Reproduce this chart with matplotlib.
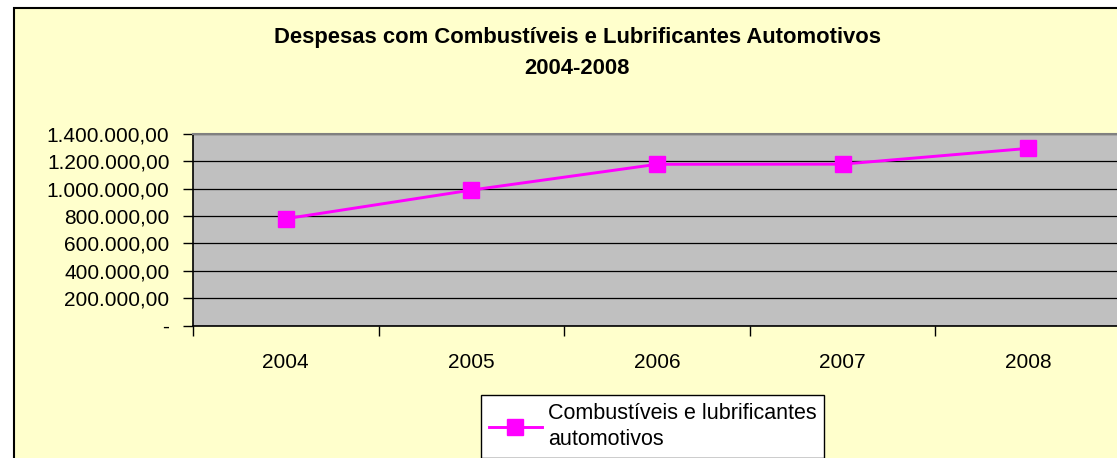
import matplotlib.pyplot as plt
from matplotlib.patches import Rectangle
from matplotlib.ticker import FuncFormatter, MultipleLocator

# dados
anos = ['2004', '2005', '2006', '2007', '2008']
despesas = [780000, 989000, 1177000, 1178000, 1293000]
serie = 'Combustíveis e lubrificantes\nautomotivos'
titulo = 'Despesas com Combustíveis e Lubrificantes Automotivos\n2004-2008'

plt.rcParams['font.family'] = ['Liberation Sans', 'DejaVu Sans']

W, H = 1117, 458
fig = plt.figure(figsize=(W / 100, H / 100), dpi=100)
fig.patch.set_facecolor('white')

# area do grafico (amarelo claro, borda preta)
fig.patches.append(Rectangle((14 / W, -0.1), 1.2, 1 - 8 / H + 0.1,
                             transform=fig.transFigure, facecolor='#FFFFCC',
                             edgecolor='black', linewidth=1.5, zorder=-5))


def fmt_br(v, pos):
    if v == 0:
        return '-'
    s = f'{v:,.2f}'
    return s.replace(',', 'X').replace('.', ',').replace('X', '.')


ax = fig.add_axes([193 / W, 1 - 325.7 / H, (1121 - 193) / W, (325.7 - 133.7) / H])
ax.set_zorder(2)
ax.set_facecolor('#C0C0C0')
x = range(len(anos))
ax.plot(x, despesas, color='#FF00FF', linewidth=2.1, marker='s',
        markersize=11, markeredgecolor='#FF00FF', label=serie, zorder=3)

ax.set_xlim(-0.5, len(anos) - 0.5)
ax.set_ylim(0, 1400000)
ax.yaxis.set_major_locator(MultipleLocator(200000))
ax.yaxis.set_major_formatter(FuncFormatter(fmt_br))
ax.grid(axis='y', color='black', linewidth=0.9)
ax.set_axisbelow(True)

ax.set_xticks([i - 0.5 for i in range(len(anos) + 1)])
ax.set_xticklabels([])
ax.set_xticks(list(x), minor=True)
ax.set_xticklabels(anos, minor=True)
ax.tick_params(axis='x', which='major', direction='out', length=7, width=1, color='black')
ax.tick_params(axis='x', which='minor', length=0, pad=20, labelsize=15)
ax.tick_params(axis='y', direction='out', length=7, width=1, labelsize=15, pad=10)

for s in ['top', 'right']:
    ax.spines[s].set_color('#808080')
    ax.spines[s].set_linewidth(1.5)
for s in ['left', 'bottom']:
    ax.spines[s].set_color('black')
    ax.spines[s].set_linewidth(1.2)

fig.text(577 / W, 1 - 53 / H, titulo, ha='center', va='center',
         fontsize=15.8, fontweight='bold', linespacing=1.6)

leg = fig.legend(loc='upper left', bbox_to_anchor=(481 / W, 1 - 395 / H),
                 fontsize=15.5, frameon=True, fancybox=False, handlelength=2.5,
                 handletextpad=0.25, borderpad=0.35, borderaxespad=0)
leg.get_texts()[0].set_linespacing(1.35)
leg.get_frame().set_edgecolor('black')
leg.get_frame().set_facecolor('white')
leg.get_frame().set_linewidth(1)
leg.get_frame().set_alpha(1)

fig.savefig('out.png', dpi=100)
